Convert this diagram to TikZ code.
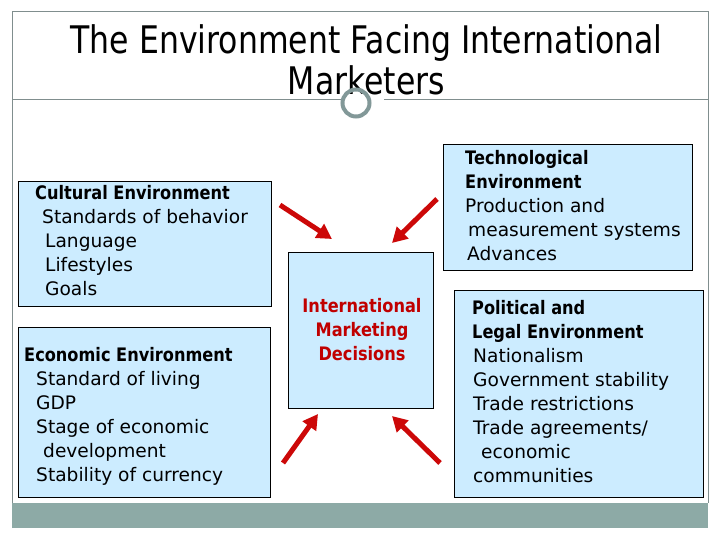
\documentclass[tikz,border=0pt]{standalone}
\usepackage{fontspec}
\setmainfont{DejaVu Sans}
\newfontfamily\titlefont[FakeStretch=0.83]{DejaVu Sans}
\newfontfamily\hdfont[FakeStretch=0.87]{DejaVu Sans}
\usetikzlibrary{arrows.meta}
\definecolor{boxblue}{RGB}{204,236,255}
\definecolor{framegray}{RGB}{128,142,142}
\definecolor{bargray}{RGB}{141,170,166}
\definecolor{ringgray}{RGB}{130,152,152}
\definecolor{arrred}{RGB}{204,8,8}
\definecolor{txtred}{RGB}{192,0,0}
\begin{document}
\begin{tikzpicture}[x=1pt,y=-1pt,
  envbox/.style={draw=black, line width=0.8pt, fill=boxblue, inner sep=0pt, anchor=north west},
  envtxt/.style={inner sep=0pt, anchor=north west, align=left, font=\fontsize{18.6}{24}\selectfont},
  redarrow/.style={draw=arrred, line width=5pt, -{Triangle[length=15pt,width=16pt]}}
]
\useasboundingbox (0,0) rectangle (720,540);
% frame
\draw[framegray, line width=1pt] (12,528) -- (12,12) -- (708,12) -- (708,503);
\draw[framegray, line width=1pt] (12,100) -- (341,100);
\draw[framegray, line width=1pt] (384,100) -- (708,100);
\fill[bargray] (12,503) rectangle (708,528);
% title
\node[inner sep=0pt, anchor=base, font=\titlefont\fontsize{38}{42}\selectfont] (title1) at (366.5,54) {The Environment Facing International};
\node[inner sep=0pt, anchor=base, font=\titlefont\fontsize{38}{42}\selectfont] (title2) at (366.5,95) {Marketers};
\draw[ringgray, line width=4pt] (356,103) circle (13.5);
% boxes
\node[envbox, minimum width=253pt, minimum height=125pt] (cul) at (18,181) {};
\node[envbox, minimum width=252pt, minimum height=170pt] (eco) at (18,327) {};
\node[envbox, minimum width=145pt, minimum height=156pt] (imd) at (288,252) {};
\node[envbox, minimum width=249pt, minimum height=126pt] (tec) at (443,144) {};
\node[envbox, minimum width=249pt, minimum height=207pt] (pol) at (454,290) {};
% texts
\node[envtxt] (culT) at (35,185) {{\hdfont\bfseries Cultural Environment}\\
\hspace*{7pt}Standards of behavior\\
\hspace*{10pt}Language\\
\hspace*{10pt}Lifestyles\\
\hspace*{10pt}Goals};
\node[envtxt] (ecoT) at (24,347) {{\hdfont\bfseries Economic Environment}\\
\hspace*{12pt}Standard of living\\
\hspace*{12pt}GDP\\
\hspace*{12pt}Stage of economic\\
\hspace*{19pt}development\\
\hspace*{12pt}Stability of currency};
\node[envtxt, anchor=north, align=center, text=txtred, font=\hdfont\bfseries\fontsize{18.6}{24}\selectfont] (imdT) at (362,298) {International\\Marketing\\Decisions};
\node[envtxt] (tecT) at (465,150) {{\hdfont\bfseries Technological}\\
{\hdfont\bfseries Environment}\\
Production and\\
\hspace*{3pt}measurement systems\\
\hspace*{2pt}Advances};
\node[envtxt] (polT) at (472,300) {{\hdfont\bfseries Political and}\\
{\hdfont\bfseries Legal Environment}\\
\hspace*{1pt}Nationalism\\
\hspace*{1pt}Government stability\\
\hspace*{1pt}Trade restrictions\\
\hspace*{1pt}Trade agreements/\\
\hspace*{9pt}economic\\
\hspace*{1pt}communities};
% arrows
\coordinate (a1s) at (280,205); \coordinate (a1e) at (332,239);
\coordinate (a2s) at (437,199); \coordinate (a2e) at (392,243);
\coordinate (a3s) at (283,463); \coordinate (a3e) at (318,414);
\coordinate (a4s) at (440,463); \coordinate (a4e) at (392,416);
\draw[redarrow] (a1s) -- (a1e);
\draw[redarrow] (a2s) -- (a2e);
\draw[redarrow] (a3s) -- (a3e);
\draw[redarrow] (a4s) -- (a4e);
\end{tikzpicture}
\end{document}
